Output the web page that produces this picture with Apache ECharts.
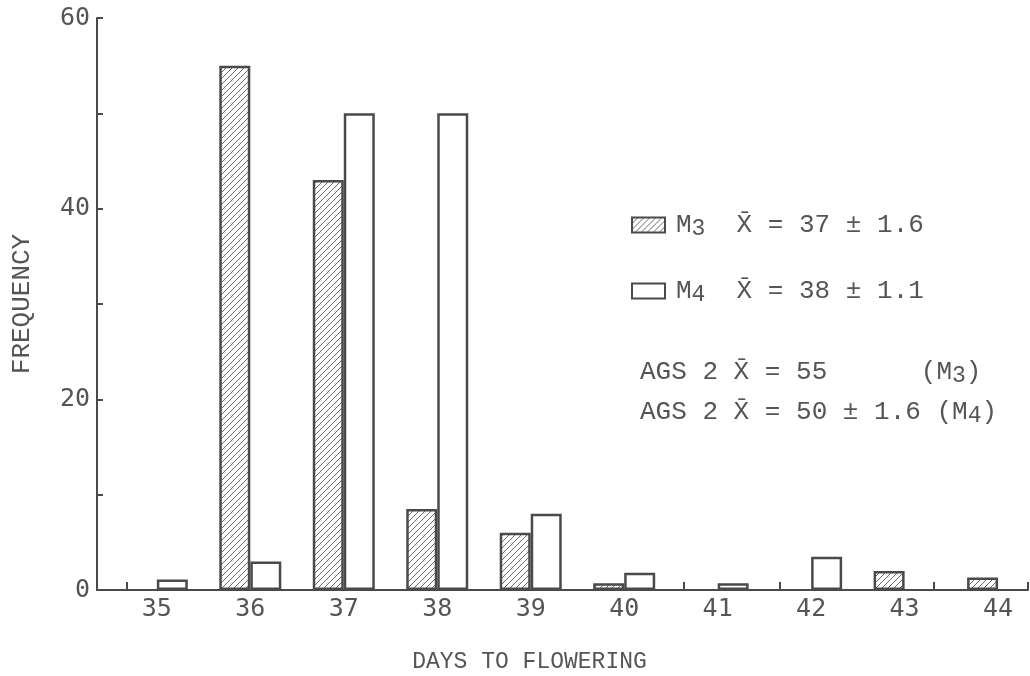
<!DOCTYPE html>
<html>
<head>
<meta charset="utf-8">
<script src="https://cdn.jsdelivr.net/npm/echarts@6/dist/echarts.min.js"></script>
<style>
  html, body { margin: 0; padding: 0; background: #fff; }
  #chart { width: 1030px; height: 676px; }
</style>
</head>
<body>
<div id="chart"></div>
<script>
// Days to flowering and frequency for the two generations
const days = [35, 36, 37, 38, 39, 40, 41, 42, 43, 44];
const m3Freq = [null, 55, 43, 8.5, 6, 0.7, null, null, 2, 1.3];
const m4Freq = [1.1, 3, 50, 50, 8, 1.8, 0.7, 3.5, null, null];
const seriesNames = ['M3', 'M4'];
const meanText = ['X̄ = 37 ± 1.6', 'X̄ = 38 ± 1.1'];
// parent (AGS 2) means: text before the generation label, and its subscript
const agsText = ['AGS 2 X̄ = 55      ', 'AGS 2 X̄ = 50 ± 1.6 '];
const agsGen = ['3', '4'];
const yTicks = [0, 20, 40, 60];
const xTickMarks = [34.68, 40.64, 41.66, 43.31, 44.32];

const ink = '#4a4a4a';
const textInk = '#555555';
const typeFont = '"Liberation Mono", "DejaVu Sans Mono", monospace';
const digitFont = '"DejaVu Sans Mono", "Liberation Mono", monospace';

// rich styles: normal text and a lowered generation subscript
const richStyles = {
  m: { fontFamily: typeFont, fontSize: 26, color: textInk, fill: textInk, lineHeight: 30 },
  s: { fontFamily: typeFont, fontSize: 23, color: textInk, fill: textInk, lineHeight: 14, verticalAlign: 'bottom' }
};

// diagonal hatch tile for the M3 bars
function hatchTile() {
  const s = 6;
  const c = document.createElement('canvas');
  c.width = s; c.height = s;
  const g = c.getContext('2d');
  g.fillStyle = '#ffffff';
  g.fillRect(0, 0, s, s);
  g.strokeStyle = '#6a6a6a';
  g.lineWidth = 1;
  g.beginPath();
  g.moveTo(0, s); g.lineTo(s, 0);
  g.moveTo(-1, 1); g.lineTo(1, -1);
  g.moveTo(s - 1, s + 1); g.lineTo(s + 1, s - 1);
  g.stroke();
  return c;
}

function pairs(vals) {
  return days.map((d, i) => vals[i] == null ? [d, '-'] : [d, vals[i]]);
}

const chart = echarts.init(document.getElementById('chart'), null, { renderer: 'canvas' });

chart.setOption({
  backgroundColor: '#ffffff',
  animation: false,
  grid: { left: 97, right: 2, top: 18, bottom: 86, outerBoundsMode: 'none', containLabel: false },
  legend: {
    orient: 'vertical',
    left: 626,
    top: 207,
    itemWidth: 33,
    itemHeight: 15,
    itemGap: 38,
    icon: 'rect',
    selectedMode: false,
    data: seriesNames,
    formatter: name => '{m|M}{s|' + name.slice(1) + '}{m|  ' + meanText[seriesNames.indexOf(name)] + '}',
    textStyle: { padding: [0, 0, 0, 6], rich: richStyles }
  },
  xAxis: {
    type: 'value',
    min: 34.36,
    max: 44.32,
    splitLine: { show: false },
    axisLine: { lineStyle: { color: ink, width: 2 } },
    axisTick: { inside: true, length: 8, customValues: xTickMarks, lineStyle: { color: ink, width: 2 } },
    axisLabel: { customValues: days, fontFamily: digitFont, fontSize: 25, color: textInk, margin: 7 },
    name: 'DAYS TO FLOWERING',
    nameLocation: 'middle',
    nameGap: 60,
    nameTextStyle: { fontFamily: typeFont, fontSize: 23, color: textInk, padding: [0, 66, 0, 0] }
  },
  yAxis: {
    type: 'value',
    min: 0,
    max: 60,
    interval: 10,
    splitLine: { show: false },
    axisLine: { show: true, lineStyle: { color: ink, width: 2 } },
    axisTick: { show: true, inside: true, length: 6, lineStyle: { color: ink, width: 2 } },
    axisLabel: {
      fontFamily: digitFont, fontSize: 25, color: textInk, margin: 7,
      formatter: v => yTicks.indexOf(v) >= 0 ? String(v) : ''
    },
    name: 'FREQUENCY',
    nameLocation: 'middle',
    nameRotate: 90,
    nameGap: 58,
    nameTextStyle: { fontFamily: typeFont, fontSize: 26, color: textInk, padding: [0, 0, 4, 0] }
  },
  series: [
    {
      name: seriesNames[0],
      type: 'bar',
      barWidth: 31,
      barGap: '0%',
      data: pairs(m3Freq),
      itemStyle: { color: { image: hatchTile(), repeat: 'repeat' }, borderColor: ink, borderWidth: 2.5 }
    },
    {
      name: seriesNames[1],
      type: 'bar',
      barWidth: 31,
      barGap: '0%',
      data: pairs(m4Freq),
      itemStyle: { color: '#ffffff', borderColor: ink, borderWidth: 2.5 }
    }
  ],
  graphic: agsText.map((t, i) => ({
    type: 'text',
    x: 640,
    y: 372 + i * 40,
    style: {
      text: '{m|' + t + '(M}{s|' + agsGen[i] + '}{m|)}',
      rich: richStyles,
      fill: textInk,
      verticalAlign: 'middle'
    }
  }))
});
</script>
</body>
</html>
